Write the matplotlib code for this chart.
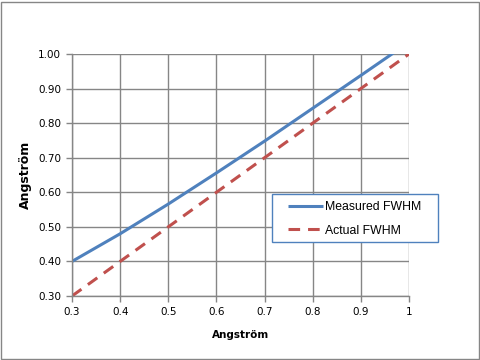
import matplotlib
matplotlib.use('Agg')
import matplotlib.pyplot as plt
from matplotlib.patches import Rectangle

# data
angstrom = [0.3, 0.4, 0.5, 0.6, 0.7, 0.8, 0.9, 1.0]
measured_fwhm = [0.40, 0.48, 0.566, 0.656, 0.748, 0.843, 0.938, 1.034]
actual_fwhm = [0.30, 0.40, 0.50, 0.60, 0.70, 0.80, 0.90, 1.00]

xticks = [0.3, 0.4, 0.5, 0.6, 0.7, 0.8, 0.9, 1.0]
xticklabels = ['0.3', '0.4', '0.5', '0.6', '0.7', '0.8', '0.9', '1']
yticks = [0.3, 0.4, 0.5, 0.6, 0.7, 0.8, 0.9, 1.0]
yticklabels = ['{:.2f}'.format(v) for v in yticks]

blue = '#4F81BD'
red = '#C0504D'
gridc = '#868686'

fig = plt.figure(figsize=(4.8, 3.6), dpi=100)
ax = fig.add_axes([72 / 480, 1 - 296 / 360, (409 - 72) / 480, (296 - 54) / 360])

ax.plot(angstrom, measured_fwhm, color=blue, lw=2.2, solid_capstyle='butt', label='Measured FWHM')
ax.plot(angstrom, actual_fwhm, color=red, lw=2.2, dashes=(3.8, 2.6), label='Actual FWHM')

ax.set_xlim(0.3, 1.0)
ax.set_ylim(0.3, 1.0)
ax.set_xticks(xticks)
ax.set_xticklabels(xticklabels)
ax.set_yticks(yticks)
ax.set_yticklabels(yticklabels)
ax.grid(True, color=gridc, lw=1.0)
ax.set_axisbelow(True)
for s in ['top', 'right']:
    ax.spines[s].set_visible(False)
for s in ['left', 'bottom']:
    ax.spines[s].set_color(gridc)
    ax.spines[s].set_linewidth(1.0)
ax.tick_params(axis='both', colors=gridc, length=4, width=1.0, labelsize=7.5, labelcolor='black', pad=4)

ax.set_xlabel('Angström', fontsize=7.5, fontweight='bold', labelpad=9)
ax.set_ylabel('Angström', fontsize=9, fontweight='bold', labelpad=4)

# legend box drawn separately (Excel style, wider horizontal padding)
box = Rectangle((272 / 480, 1 - 242 / 360), (438 - 272) / 480, (242 - 194) / 360,
                transform=fig.transFigure, facecolor='white', edgecolor=blue, lw=1.0,
                zorder=4, clip_on=False)
ax.add_patch(box)
leg = ax.legend(loc='upper left', bbox_to_anchor=(288 / 480, 1 - 201 / 360), bbox_transform=fig.transFigure,
                frameon=False, handlelength=2.85, handletextpad=0.2,
                labelspacing=0.95, borderpad=0, borderaxespad=0, prop={'family': 'Liberation Sans', 'size': 8.8})
leg.set_zorder(6)

# outer chart border
fig.patches.append(Rectangle((0.5 / 480, 1.5 / 360), 478.5 / 480, 357 / 360, transform=fig.transFigure,
                             fill=False, edgecolor=gridc, lw=1.0))

fig.savefig('out.png', dpi=100)
